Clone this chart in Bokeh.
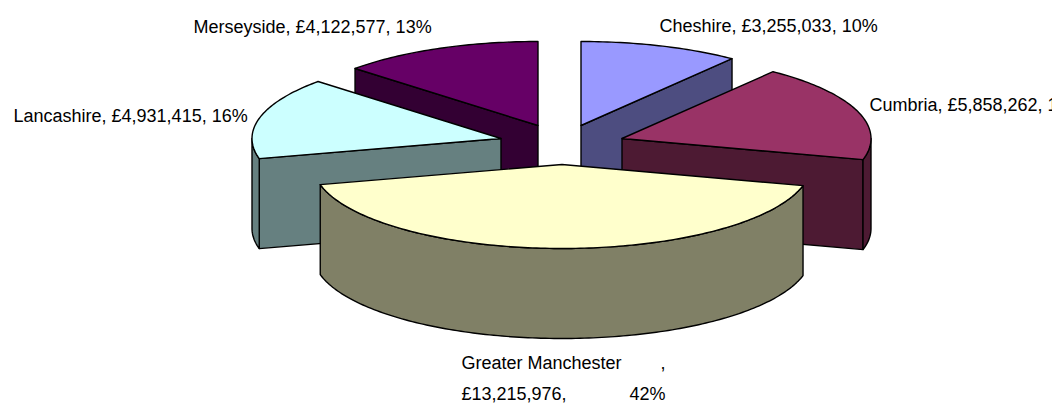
import math
from bokeh.plotting import figure
from bokeh.models import Range1d
from bokeh.core.properties import value
from bokeh.embed import file_html
from bokeh.resources import INLINE

# data
categories = ["Cheshire", "Cumbria", "Greater Manchester", "Lancashire", "Merseyside"]
amounts = [3255033, 5858262, 13215976, 4931415, 4122577]
top_colors = ["#9999FF", "#993366", "#FFFFCC", "#CCFFFF", "#660066"]
side_colors = ["#4D4D80", "#4D1A33", "#808066", "#668080", "#330033"]

# layout (reference pixels)
apex_x = [580.5, 621.5, 561.5, 500.5, 537.5]
apex_y = [125, 138, 164, 138, 125]
RX, RY, DEPTH = 249, 84, 90
draw_order = [4, 0, 1, 3, 2]
FONT = "Liberation Sans"
FS = "18px"

total = sum(amounts)
pcts = [f"{round(a / total * 100)}%" for a in amounts]
money = [f"£{a:,}" for a in amounts]

p = figure(width=1052, height=404, output_backend="svg", toolbar_location=None,
           x_range=Range1d(0, 1052), y_range=Range1d(404, 0),
           min_border=0, outline_line_color=None)
p.axis.visible = False
p.grid.visible = False
p.background_fill_color = "white"
p.border_fill_color = "white"


def rim(i, deg):
    t = math.radians(deg)
    return apex_x[i] + RX * math.sin(t), apex_y[i] - RY * math.cos(t)


def arc(i, a, b):
    n = max(2, int(abs(b - a)) + 1)
    return [rim(i, a + (b - a) * k / (n - 1)) for k in range(n)]


def poly(pts, color, lw=1.4):
    p.patch([q[0] for q in pts], [q[1] for q in pts], fill_color=color,
            line_color="black", line_width=lw, line_join="round")


starts = []
acc = 0.0
for a in amounts:
    starts.append(acc / total * 360)
    acc += a

for i in draw_order:
    t0 = starts[i]
    t1 = t0 + amounts[i] / total * 360
    apex = (apex_x[i], apex_y[i])
    # visible cut faces
    for t, vis in ((t0, math.sin(math.radians(t0)) < -1e-6),
                   (t1, math.sin(math.radians(t1)) > 1e-6)):
        if vis:
            e = rim(i, t)
            poly([apex, e, (e[0], e[1] + DEPTH), (apex[0], apex[1] + DEPTH)], side_colors[i])
    # outer wall (front half of the rim)
    a, b = max(t0, 90), min(t1, 270)
    if b > a:
        up = arc(i, a, b)
        poly(up + [(x, y + DEPTH) for x, y in reversed(up)], side_colors[i])
    # top face
    poly([apex] + arc(i, t0, t1), top_colors[i])

# labels
label_text = [
    f"{categories[0]}, {money[0]}, {pcts[0]}",
    f"{categories[1]}, {money[1]}, {pcts[1]}",
    f"{categories[3]}, {money[3]}, {pcts[3]}",
    f"{categories[4]}, {money[4]}, {pcts[4]}",
    categories[2],
    ",",
    money[2] + ",",
    pcts[2],
]
label_x = [659, 869, 13, 193, 461, 660, 461, 629]
label_y = [25, 104, 115, 26, 362, 362, 393, 393]
p.text(label_x, label_y, text=label_text, text_font=value(FONT), text_font_size=value(FS),
       text_color="black", text_align="left", text_baseline="alphabetic")

open("out.html", "w").write(file_html(p, INLINE))
